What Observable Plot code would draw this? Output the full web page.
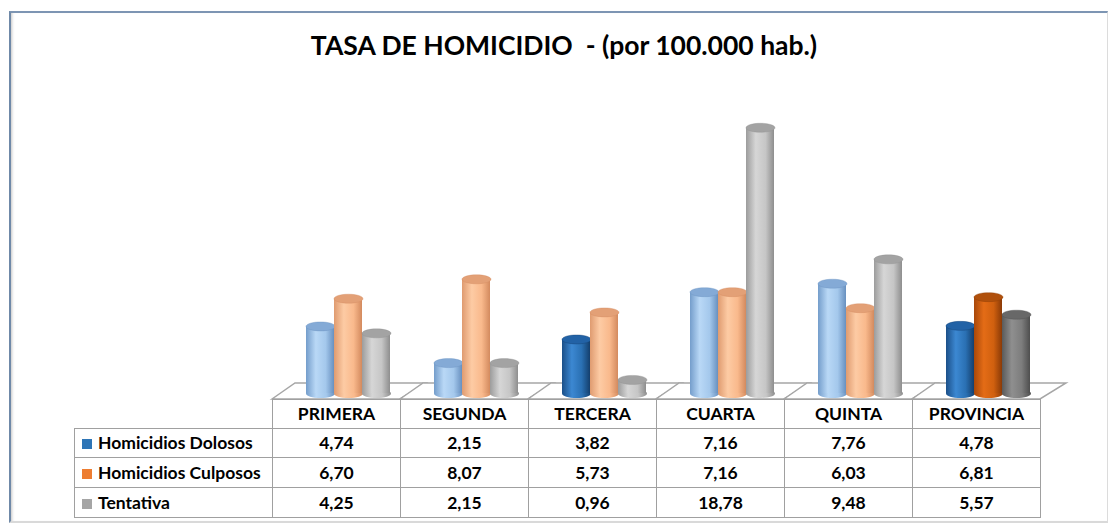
<!DOCTYPE html>
<html><head><meta charset="utf-8">
<script src="https://cdn.jsdelivr.net/npm/d3@7"></script>
<script src="https://cdn.jsdelivr.net/npm/@observablehq/plot@0.6"></script>
<style>
html,body{margin:0;padding:0;background:#fff;}
#wrap{position:relative;width:1108px;height:526px;overflow:hidden;font-family:Lato,"Open Sans",sans-serif;}
#frame{position:absolute;left:9px;top:11px;width:1096px;height:508px;border-top:2px solid #7d95b3;border-left:2px solid #6f89a8;border-right:1px solid #dcdcdc;border-bottom:2px solid #d9d9d9;box-shadow:inset 3px 0 3px -2px #c4c4c4;}
#title{position:absolute;left:0;width:1128px;top:30px;text-align:center;font-weight:700;font-size:26.5px;color:#000;white-space:pre;line-height:1.2;}
#chart{position:absolute;left:0;top:0;}
#tbl{position:absolute;left:74px;top:399px;border-collapse:collapse;table-layout:fixed;font-weight:700;font-size:17.5px;color:#000;}
#tbl td,#tbl th{border:1px solid #a0a0a0;padding:0;text-align:center;font-weight:700;line-height:1;}
#tbl th.blank{border:none;border-right:1px solid #a0a0a0;border-bottom:1px solid #a0a0a0;}
#tbl td.leg{text-align:left;padding-left:7px;white-space:nowrap;}
#tbl .sw{display:inline-block;width:10px;height:10px;margin-right:6px;vertical-align:0px;}
</style></head>
<body>
<div id="wrap">
  <div id="frame"></div>
  <div id="chart"></div>
  <div id="title"></div>
  <table id="tbl"></table>
</div>
<script>
// ---- data ----
const titleText = "TASA DE HOMICIDIO  - (por 100.000 hab.)";
const regions = ["PRIMERA", "SEGUNDA", "TERCERA", "CUARTA", "QUINTA", "PROVINCIA"];
const seriesNames = ["Homicidios Dolosos", "Homicidios Culposos", "Tentativa"];
const dolosos   = [4.74, 2.15, 3.82, 7.16, 7.76, 4.78];
const culposos  = [6.70, 8.07, 5.73, 7.16, 6.03, 6.81];
const tentativa = [4.25, 2.15, 0.96, 18.78, 9.48, 5.57];
const seriesValues = [dolosos, culposos, tentativa];

// ---- styles ----
const legendColors = ["#2e75b6", "#ed7d31", "#a5a5a5"];
const palettes = {
  "light-0": {stops: ["#749dcb", "#b9d8f6", "#a4c8ec", "#6890bf"], top: "#84aad6"},
  "light-1": {stops: ["#df9b70", "#fdcba4", "#f9b98c", "#d38a5e"], top: "#e3a076"},
  "light-2": {stops: ["#9c9c9c", "#d6d6d6", "#c6c6c6", "#8e8e8e"], top: "#a3a3a3"},
  "dark-0":  {stops: ["#1b4f88", "#3c88d2", "#2a70b3", "#143f6d"], top: "#2262a6"},
  "dark-1":  {stops: ["#a8480a", "#e46c16", "#d0600f", "#8a3a07"], top: "#b0500c"},
  "dark-2":  {stops: ["#5a5a5a", "#8f8f8f", "#7d7d7d", "#4e4e4e"], top: "#686868"}
};
const isDark = (region, j) => region === "PROVINCIA" || (region === "TERCERA" && j === 0);

const data = regions.flatMap((r, i) =>
  seriesNames.map((s, j) => ({region: r, series: s, j, value: seriesValues[j][i], dark: isDark(r, j)})));

const PAD_OUTER = 0.707, COL_W = 128;
const BAR_W = COL_W / (seriesNames.length + 2 * PAD_OUTER);
const RX = BAR_W / 2, RY = 4.5, K = 0.5523;
const ellipse = {
  draw(ctx) {
    ctx.moveTo(-RX, 0);
    ctx.bezierCurveTo(-RX, -RY * K, -RX * K, -RY, 0, -RY);
    ctx.bezierCurveTo(RX * K, -RY, RX, -RY * K, RX, 0);
    ctx.bezierCurveTo(RX, RY * K, RX * K, RY, 0, RY);
    ctx.bezierCurveTo(-RX * K, RY, -RX, RY * K, -RX, 0);
    ctx.closePath();
  }
};

function defsMark() {
  const defs = d3.create("svg:defs");
  for (const [id, p] of Object.entries(palettes)) {
    const g = defs.append("linearGradient").attr("id", "g-" + id)
      .attr("x1", 0).attr("x2", 1).attr("y1", 0).attr("y2", 0);
    [0, 0.35, 0.7, 1].forEach((o, k) => g.append("stop").attr("offset", o).attr("stop-color", p.stops[k]));
  }
  return defs.node();
}

function floorMark(index, scales, values, dims) {
  const y0 = scales.y(0);
  const L = dims.marginLeft, R = dims.width - dims.marginRight;
  const front = y0 + 6, back = y0 - 10;
  const pts = [[L, front], [L + 23, back], [R + 26, back], [R, front]];
  const g = d3.create("svg:path")
    .attr("d", "M" + pts.map(p => p.join(",")).join("L") + "Z")
    .attr("fill", "#fff").attr("stroke", "#a6a6a6").attr("stroke-width", 1.5);
  return g.node();
}

const marks = [defsMark, floorMark];
seriesNames.forEach((s, j) => {
  for (const dark of [false, true]) {
    const sub = data.filter(d => d.j === j && d.dark === dark);
    if (!sub.length) continue;
    const key = (dark ? "dark-" : "light-") + j;
    const url = "url(#g-" + key + ")";
    marks.push(Plot.dot(sub, {fx: "region", x: "series", y: 0, symbol: ellipse, r: 5, fill: url, stroke: "none"}));
    marks.push(Plot.barY(sub, {fx: "region", x: "series", y: "value", fill: url, insetLeft: 0, insetRight: 0}));
    marks.push(Plot.dot(sub, {fx: "region", x: "series", y: "value", symbol: ellipse, r: 5,
      fill: palettes[key].top, stroke: palettes[key].stops[3], strokeWidth: 0.6, strokeOpacity: 0.6}));
  }
});

const chart = Plot.plot({
  width: 1108,
  height: 526,
  marginLeft: 272,
  marginRight: 68,
  marginTop: 110,
  marginBottom: 133,
  fx: {domain: regions, padding: 0, axis: null, label: null},
  x: {domain: seriesNames, paddingInner: 0, paddingOuter: PAD_OUTER, align: 0.78, axis: null, label: null},
  y: {domain: [0, 20], axis: null, label: null},
  style: {background: "transparent", overflow: "visible"},
  marks
});
document.getElementById("chart").appendChild(chart);
document.getElementById("title").textContent = titleText;

// ---- data table ----
const fmt = v => v.toFixed(2).replace(".", ",");
const tbl = d3.select("#tbl");
const cg = tbl.append("colgroup");
cg.append("col").style("width", "198px");
regions.forEach(() => cg.append("col").style("width", "128px"));
const hr = tbl.append("tr").style("height", "29px");
hr.append("th").attr("class", "blank");
regions.forEach(r => hr.append("th").text(r));
seriesNames.forEach((s, j) => {
  const tr = tbl.append("tr").style("height", j === 0 ? "29px" : "30px");
  const td = tr.append("td").attr("class", "leg");
  td.append("span").attr("class", "sw").style("background", legendColors[j]);
  td.append("span").text(s);
  seriesValues[j].forEach(v => tr.append("td").text(fmt(v)));
});
tbl.style("width", (198 + 128 * regions.length) + "px");
</script>
</body></html>
